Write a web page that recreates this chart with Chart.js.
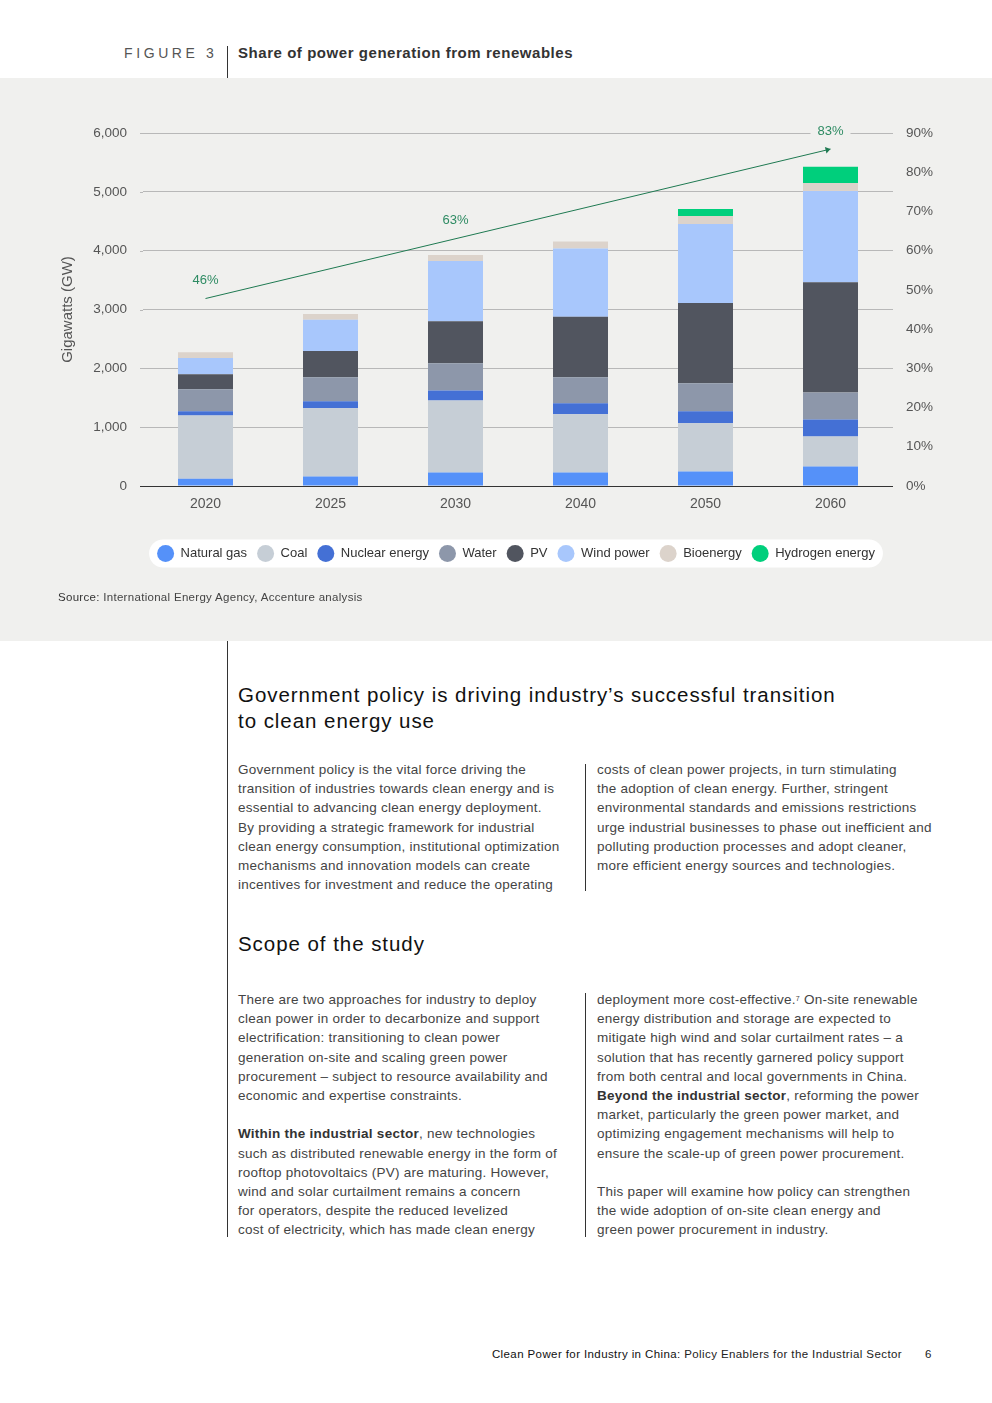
<!DOCTYPE html>
<html>
<head>
<meta charset="utf-8">
<script src="https://cdn.jsdelivr.net/npm/chart.js@4.4.1/dist/chart.umd.min.js"></script>
<style>
  html, body { margin: 0; padding: 0; background: #ffffff; }
  body { width: 992px; height: 1403px; position: relative; overflow: hidden;
         font-family: "Liberation Sans", Arial, sans-serif; color: #333; }
  .abs { position: absolute; white-space: nowrap; }
  #panel { position: absolute; left: 0; top: 78px; width: 992px; height: 563px; background: #f0f0ee; }
  #panel canvas { position: absolute; left: 0; top: 0; }
  .vline { position: absolute; width: 1px; background: #333; }
  .fig { left: 124px; top: 44px; font-size: 14px; letter-spacing: 3.6px; color: #555; line-height: 18px; }
  .title { left: 238px; top: 44px; font-size: 15px; font-weight: bold; color: #333; line-height: 18px; letter-spacing: 0.55px; }
  .src { left: 58px; top: 590px; font-size: 11.5px; color: #444; line-height: 14px; letter-spacing: 0.3px; }
  .h2 { left: 238px; font-size: 20.5px; line-height: 26px; color: #111; letter-spacing: 0.95px; }
  .body { font-size: 13.5px; line-height: 19.2px; color: #444; letter-spacing: 0.25px; }
  .body b { color: #333; }
  sup { font-size: 7px; vertical-align: top; position: relative; top: -1px; }
  .foot { top: 1347px; font-size: 11.5px; line-height: 14px; color: #222; letter-spacing: 0.4px; }
</style>
</head>
<body>
<div class="abs fig">FIGURE 3</div>
<div class="vline" style="left:227px; top:46px; height:32px;"></div>
<div class="abs title">Share of power generation from renewables</div>

<div id="panel">
  <canvas id="chart" width="992" height="563"></canvas>
</div>
<div class="abs src"><span style="color:#333">Source:</span> International Energy Agency, Accenture analysis</div>

<div class="vline" style="left:227px; top:641px; height:596px;"></div>

<div class="abs h2" style="top:682px;">Government policy is driving industry’s successful transition<br>to clean energy use</div>

<div class="abs body" style="left:238px; top:760px;">Government policy is the vital force driving the<br>transition of industries towards clean energy and is<br>essential to advancing clean energy deployment.<br>By providing a strategic framework for industrial<br>clean energy consumption, institutional optimization<br>mechanisms and innovation models can create<br>incentives for investment and reduce the operating</div>
<div class="vline" style="left:585px; top:764px; height:127px;"></div>
<div class="abs body" style="left:597px; top:760px;">costs of clean power projects, in turn stimulating<br>the adoption of clean energy. Further, stringent<br>environmental standards and emissions restrictions<br>urge industrial businesses to phase out inefficient and<br>polluting production processes and adopt cleaner,<br>more efficient energy sources and technologies.</div>

<div class="abs h2" style="top:931px;">Scope of the study</div>

<div class="abs body" style="left:238px; top:990px;">There are two approaches for industry to deploy<br>clean power in order to decarbonize and support<br>electrification: transitioning to clean power<br>generation on-site and scaling green power<br>procurement – subject to resource availability and<br>economic and expertise constraints.<br>&nbsp;<br><b>Within the industrial sector</b>, new technologies<br>such as distributed renewable energy in the form of<br>rooftop photovoltaics (PV) are maturing. However,<br>wind and solar curtailment remains a concern<br>for operators, despite the reduced levelized<br>cost of electricity, which has made clean energy</div>
<div class="vline" style="left:585px; top:993px; height:244px;"></div>
<div class="abs body" style="left:597px; top:990px;">deployment more cost-effective.<sup>7</sup> On-site renewable<br>energy distribution and storage are expected to<br>mitigate high wind and solar curtailment rates – a<br>solution that has recently garnered policy support<br>from both central and local governments in China.<br><b>Beyond the industrial sector</b>, reforming the power<br>market, particularly the green power market, and<br>optimizing engagement mechanisms will help to<br>ensure the scale-up of green power procurement.<br>&nbsp;<br>This paper will examine how policy can strengthen<br>the wide adoption of on-site clean energy and<br>green power procurement in industry.</div>

<div class="abs foot" style="right:90px;"><span style="color:#111">Clean Power for Industry in China:</span> Policy Enablers for the Industrial Sector</div>
<div class="abs foot" style="left:925px;">6</div>

<script>
// ---- Data (GW) ----
const years      = ['2020', '2025', '2030', '2040', '2050', '2060'];
const naturalGas = [125, 160, 230, 230, 245, 330];
const coal       = [1075, 1160, 1225, 990, 820, 510];
const nuclear    = [70, 120, 170, 185, 205, 290];
const water      = [375, 410, 460, 445, 475, 460];
const pv         = [255, 445, 715, 1025, 1365, 1875];
const windPower  = [275, 530, 1025, 1160, 1345, 1550];
const bioenergy  = [100, 100, 100, 120, 135, 135];
const hydrogen   = [null, null, null, null, 120, 275];

// trend arrow (right axis, %) and its annotations
const shareTrend      = [47.8, null, null, null, null, 85.9];
const shareLabelYears = ['2020', '2030', '2060'];
const shareLabelTexts = ['46%', '63%', '83%'];

const leftTicks  = [0, 1000, 2000, 3000, 4000, 5000, 6000];
const rightTicks = [0, 10, 20, 30, 40, 50, 60, 70, 80, 90];

const FONT = '"Liberation Sans", Arial, sans-serif';
const PANEL = '#f0f0ee';
const GREEN = '#1f7a52';

const trendPlugin = {
  id: 'trend',
  beforeDraw(chart) {
    const ctx = chart.ctx;
    ctx.save();
    ctx.fillStyle = PANEL;
    ctx.fillRect(0, 0, chart.width, chart.height);
    // legend pill
    const lg = chart.legend;
    if (lg && lg.legendHitBoxes && lg.legendHitBoxes.length) {
      const hb = lg.legendHitBoxes;
      const l = hb[0].left - 8, r = hb[hb.length - 1].left + hb[hb.length - 1].width + 8;
      const cy = hb[0].top + hb[0].height / 2;
      const h = 28, t = cy - h / 2;
      ctx.fillStyle = '#ffffff';
      ctx.beginPath();
      ctx.roundRect(l, t, r - l, h, h / 2);
      ctx.fill();
    }
    ctx.restore();
  },
  beforeDatasetsDraw(chart) {
    // extend gridlines 3px to the left of the category area, as in the reference
    const ctx = chart.ctx, ys = chart.scales.y, a = chart.chartArea;
    ctx.save();
    leftTicks.forEach(v => {
      const y = Math.round(ys.getPixelForValue(v)) + 0.5;
      ctx.strokeStyle = v === 0 ? '#333' : '#b8b8b8';
      ctx.lineWidth = 1;
      ctx.beginPath(); ctx.moveTo(a.left - 3, y); ctx.lineTo(a.left, y); ctx.stroke();
    });
    ctx.restore();
  },
  afterDatasetsDraw(chart) {
    const ctx = chart.ctx;
    const xs = chart.scales.x, ys = chart.scales.y1;
    const i0 = shareTrend.findIndex(v => v !== null);
    const i1 = shareTrend.length - 1 - [...shareTrend].reverse().findIndex(v => v !== null);
    const x0 = xs.getPixelForValue(i0), y0 = ys.getPixelForValue(shareTrend[i0]);
    const x1 = xs.getPixelForValue(i1), y1 = ys.getPixelForValue(shareTrend[i1]);
    const ang = Math.atan2(y1 - y0, x1 - x0);
    ctx.save();
    // arrow head
    ctx.fillStyle = GREEN;
    ctx.beginPath();
    ctx.moveTo(x1 - 6 * Math.cos(ang - 0.6), y1 - 6 * Math.sin(ang - 0.6));
    ctx.lineTo(x1, y1);
    ctx.lineTo(x1 - 6 * Math.cos(ang + 0.6), y1 - 6 * Math.sin(ang + 0.6));
    ctx.closePath();
    ctx.fill();
    // labels
    ctx.font = '13px ' + FONT;
    ctx.textAlign = 'center';
    ctx.textBaseline = 'middle';
    shareLabelYears.forEach((yr, k) => {
      const idx = years.indexOf(yr);
      const x = xs.getPixelForValue(idx);
      const t = (x - x0) / (x1 - x0);
      const y = y0 + t * (y1 - y0) - 18;
      const w = ctx.measureText(shareLabelTexts[k]).width;
      ctx.fillStyle = PANEL;
      ctx.fillRect(x - w / 2 - 7, y - 8, w + 14, 16);
      ctx.fillStyle = '#2e8b63';
      ctx.fillText(shareLabelTexts[k], x, y);
    });
    ctx.restore();
  }
};

function bar(label, data, color) {
  return { type: 'bar', label, data, backgroundColor: color, borderWidth: 0,
           yAxisID: 'y', stack: 'gw', order: 1,
           categoryPercentage: 1.0, barPercentage: 0.44 };
}

const datasets = [
  bar('Natural gas', naturalGas, '#5591f9'),
  bar('Coal', coal, '#c6ced6'),
  bar('Nuclear energy', nuclear, '#4470d5'),
  bar('Water', water, '#8d97aa'),
  bar('PV', pv, '#51555f'),
  bar('Wind power', windPower, '#a8c7fc'),
  bar('Bioenergy', bioenergy, '#dcd3cb'),
  bar('Hydrogen energy', hydrogen, '#00cf7c'),
  { type: 'line', label: 'Share of renewables', data: shareTrend, yAxisID: 'y1',
    borderColor: GREEN, borderWidth: 1, pointRadius: 0, spanGaps: true, order: 0, fill: false }
];

new Chart(document.getElementById('chart'), {
  data: { labels: years, datasets },
  plugins: [trendPlugin],
  options: {
    responsive: false,
    animation: false,
    devicePixelRatio: 1,
    layout: { padding: { top: 55, left: 40, right: 0, bottom: 71 } },
    font: { family: FONT },
    plugins: {
      tooltip: { enabled: false },
      title: { display: false },
      legend: {
        position: 'bottom',
        labels: {
          filter: (item) => item.datasetIndex < 8,
          usePointStyle: true, pointStyle: 'circle', pointStyleWidth: 17,
          boxHeight: 12, color: '#333',
          font: { family: FONT, size: 13 }, padding: 10
        }
      }
    },
    scales: {
      x: {
        stacked: true,
        grid: { display: false, drawTicks: false }, border: { display: false },
        ticks: { color: '#555', font: { family: FONT, size: 14 }, padding: 10 },
        afterFit: (s) => { s.height = 51; }
      },
      y: {
        stacked: true, position: 'left', min: 0, max: 6000,
        afterBuildTicks: (s) => { s.ticks = leftTicks.map(v => ({ value: v })); },
        grid: { color: (c) => c.tick && c.tick.value === 0 ? '#333' : '#b8b8b8', drawTicks: false, lineWidth: 1 },
        border: { display: false },
        ticks: { color: '#555', font: { family: FONT, size: 13.5 }, padding: 16,
                 callback: (v) => Number(v).toLocaleString('en-US') },
        title: { display: true, text: 'Gigawatts (GW)', color: '#555',
                 font: { family: FONT, size: 15 }, padding: { top: 19, bottom: 0 } },
        afterFit: (s) => { s.width = 103; }
      },
      y1: {
        position: 'right', min: 0, max: 90,
        afterBuildTicks: (s) => { s.ticks = rightTicks.map(v => ({ value: v })); },
        grid: { display: false, drawOnChartArea: false, drawTicks: false }, border: { display: false },
        ticks: { color: '#555', font: { family: FONT, size: 13.5 }, padding: 13,
                 callback: (v) => v + '%' },
        afterFit: (s) => { s.width = 99; }
      }
    }
  }
});
</script>
</body>
</html>
